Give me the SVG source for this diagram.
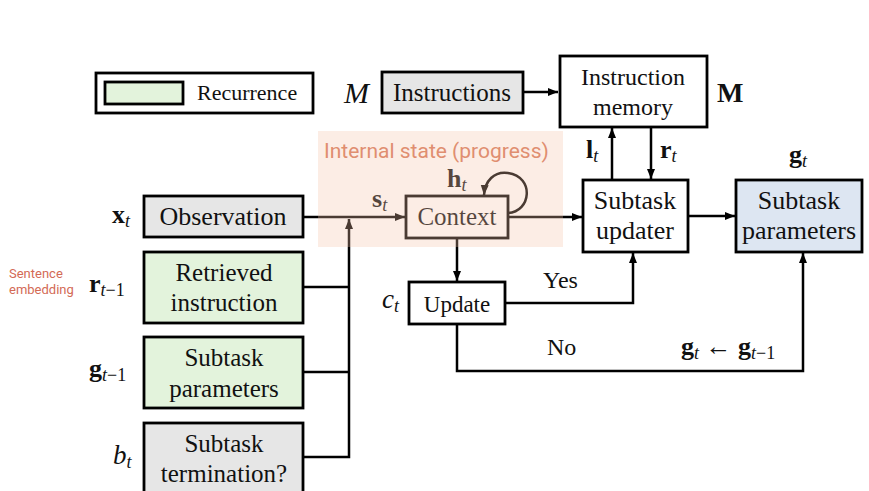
<svg xmlns="http://www.w3.org/2000/svg" width="869" height="491" viewBox="0 0 869 491">
<style>
  .box { stroke:#000; stroke-width:2.8; }
  .w { fill:#fff; }
  .g { fill:#e6e6e6; }
  .gr { fill:#e3f3dc; }
  .bl { fill:#dde6f2; }
  .t { font-family:"Liberation Serif","Times New Roman",serif; fill:#111; text-anchor:middle; }
  .m { font-family:"Liberation Serif","Times New Roman",serif; fill:#111; }
  .c { fill:none; stroke:#000; stroke-width:2.5; }
  .sans { font-family:Roboto,"Liberation Sans",sans-serif; }
</style>
<defs>
  <marker id="ah" markerUnits="userSpaceOnUse" markerWidth="11" markerHeight="9" refX="10" refY="4" orient="auto">
    <path d="M0,0 L10,4 L0,8 z" fill="#000"/>
  </marker>
</defs>
<rect width="869" height="491" fill="#fff"/>

<g id="legend">
  <rect x="96" y="73" width="217" height="40" class="box w" stroke-width="2.5"/>
  <rect x="105" y="82" width="78" height="22" class="box gr"/>
  <text x="197" y="100" class="m" font-size="22">Recurrence</text>
</g>

<g id="connectors">
  <path class="c" d="M523 92 H558" marker-end="url(#ah)"/>
  <path class="c" d="M303 217 H405" marker-end="url(#ah)"/>
  <path class="c" d="M303 287 H349"/>
  <path class="c" d="M303 372 H349"/>
  <path class="c" d="M303 457 H349 V219" marker-end="url(#ah)"/>
  <path class="c" d="M508 217 H582" marker-end="url(#ah)"/>
  <path class="c" d="M508 213 C 531 212, 535 177, 508 173 C 494 171, 485 181, 484 195" marker-end="url(#ah)"/>
  <path class="c" d="M612 180 V128" marker-end="url(#ah)"/>
  <path class="c" d="M651 127 V179" marker-end="url(#ah)"/>
  <path class="c" d="M688 216 H735" marker-end="url(#ah)"/>
  <path class="c" d="M457 238 V281" marker-end="url(#ah)"/>
  <path class="c" d="M505 303 H633 V253" marker-end="url(#ah)"/>
  <path class="c" d="M457 324 V371 H803 V253" marker-end="url(#ah)"/>
</g>

<g id="instructions">
  <rect x="382" y="72" width="141" height="41" class="box g"/>
  <text x="452" y="101" class="t" font-size="25">Instructions</text>
</g>
<g id="instruction-memory">
  <rect x="560" y="56" width="147" height="71" class="box w"/>
  <text x="633" y="85" class="t" font-size="24">Instruction</text>
  <text x="633" y="115" class="t" font-size="24">memory</text>
</g>
<g id="observation">
  <rect x="144" y="196" width="159" height="41" class="box g"/>
  <text x="223" y="225" class="t" font-size="26">Observation</text>
</g>
<g id="context">
  <rect x="406" y="196" width="102" height="42" class="box w"/>
  <text x="457" y="225" class="t" font-size="25">Context</text>
</g>
<g id="subtask-updater">
  <rect x="583" y="180" width="105" height="72" class="box w"/>
  <text x="635" y="209" class="t" font-size="26">Subtask</text>
  <text x="635" y="239" class="t" font-size="26">updater</text>
</g>
<g id="subtask-parameters-out">
  <rect x="736" y="180" width="126" height="72" class="box bl"/>
  <text x="799" y="209" class="t" font-size="26">Subtask</text>
  <text x="799" y="239" class="t" font-size="26">parameters</text>
</g>
<g id="retrieved-instruction">
  <rect x="144" y="252" width="159" height="71" class="box gr"/>
  <text x="224" y="281" class="t" font-size="25">Retrieved</text>
  <text x="224" y="311" class="t" font-size="25">instruction</text>
</g>
<g id="subtask-parameters-in">
  <rect x="144" y="337" width="159" height="71" class="box gr"/>
  <text x="224" y="366" class="t" font-size="25">Subtask</text>
  <text x="224" y="397" class="t" font-size="25">parameters</text>
</g>
<g id="subtask-termination">
  <rect x="144" y="423" width="159" height="75" class="box g"/>
  <text x="224" y="452" class="t" font-size="25">Subtask</text>
  <text x="224" y="482" class="t" font-size="25">termination?</text>
</g>
<g id="update">
  <rect x="409" y="282" width="96" height="42" class="box w"/>
  <text x="457" y="312" class="t" font-size="23">Update</text>
</g>

<g id="labels">
  <text x="344" y="103" class="m" font-size="30" font-style="italic">M</text>
  <text x="717" y="102" class="m" font-size="28" font-weight="bold">M</text>
  <text x="586" y="158" class="m" font-size="26" font-weight="bold">l<tspan font-weight="normal" font-style="italic" font-size="18" dy="4">t</tspan></text>
  <text x="660" y="158" class="m" font-size="26" font-weight="bold">r<tspan font-weight="normal" font-style="italic" font-size="18" dy="4">t</tspan></text>
  <text x="789" y="163" class="m" font-size="26" font-weight="bold">g<tspan font-weight="normal" font-style="italic" font-size="18" dy="4">t</tspan></text>
  <text x="447" y="187" class="m" font-size="26" font-weight="bold">h<tspan font-weight="normal" font-style="italic" font-size="18" dy="4">t</tspan></text>
  <text x="372" y="207" class="m" font-size="26" font-weight="bold">s<tspan font-weight="normal" font-style="italic" font-size="18" dy="4">t</tspan></text>
  <text x="112" y="223" class="m" font-size="26" font-weight="bold">x<tspan font-weight="normal" font-style="italic" font-size="18" dy="4">t</tspan></text>
  <text x="89" y="292" class="m" font-size="26" font-weight="bold">r<tspan font-weight="normal" font-style="italic" font-size="18" dy="4">t</tspan><tspan font-weight="normal" font-size="18">−1</tspan></text>
  <text x="89" y="377" class="m" font-size="26" font-weight="bold">g<tspan font-weight="normal" font-style="italic" font-size="18" dy="4">t</tspan><tspan font-weight="normal" font-size="18">−1</tspan></text>
  <text x="113" y="464" class="m" font-size="27" font-style="italic">b<tspan font-size="18" dy="4">t</tspan></text>
  <text x="382" y="308" class="m" font-size="27" font-style="italic">c<tspan font-size="18" dy="4">t</tspan></text>
  <text x="543" y="288" class="m" font-size="24">Yes</text>
  <text x="547" y="355" class="m" font-size="24">No</text>
  <text x="681" y="355" class="m" font-size="26" font-weight="bold">g<tspan font-weight="normal" font-style="italic" font-size="18" dy="4">t</tspan><tspan font-weight="normal" dy="-4"> ← </tspan>g<tspan font-weight="normal" font-style="italic" font-size="18" dy="4">t</tspan><tspan font-weight="normal" font-size="18">−1</tspan></text>
  <text x="9" y="278" class="sans" font-size="13" fill="#d36a55">Sentence</text>
  <text x="9" y="294" class="sans" font-size="13" fill="#d36a55">embedding</text>
</g>

<g id="internal-state">
  <rect x="318" y="131" width="245" height="116" fill="#f5c3aa" opacity="0.3"/>
  <text x="324" y="158" class="sans" font-size="21" fill="#e08e70">Internal state (progress)</text>
</g>
</svg>
